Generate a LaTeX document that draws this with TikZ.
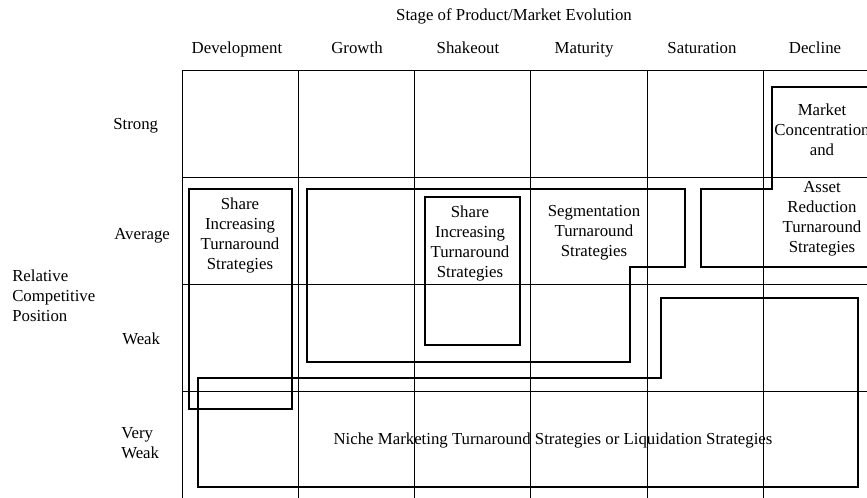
\documentclass[tikz,border=0pt]{standalone}
\usepackage{fontspec}
\setmainfont{Liberation Serif}

\begin{document}
\begin{tikzpicture}[x=0.75pt, y=-0.75pt]
\useasboundingbox (0,0) rectangle (867,497);
\clip (0,0) rectangle (867,497);
  \begin{scope}[every node/.style={inner sep=0pt, align=center, font=\fontsize{12.6}{15}\selectfont}]
\node[anchor=base](stage) at (514,20.7) {Stage of Product/Market Evolution};
\node[anchor=base](dev) at (237,53.3) {Development};
\node[anchor=base](growth) at (357,53.3) {Growth};
\node[anchor=base](shake) at (468,53.3) {Shakeout};
\node[anchor=base](mat) at (584,53.3) {Maturity};
\node[anchor=base](sat) at (702,53.3) {Saturation};
\node[anchor=base](decl) at (815,53.3) {Decline};
\node[anchor=west](strong) at (113,126) {Strong};
\node[anchor=west](avg) at (114,236) {Average};
\node[anchor=west](weak) at (122,339) {Weak};
\node[anchor=west, align=left](vweak) at (121,443) {Very\\Weak};
\node[anchor=west, align=left](rcp) at (12,296) {Relative\\Competitive\\Position};
\node(sharedev) at (240,235) {Share\\Increasing\\Turnaround\\Strategies};
\node(shareshake) at (470,243) {Share\\Increasing\\Turnaround\\Strategies};
\node(segm) at (594,233) {Segmentation\\Turnaround\\Strategies};
\node(conc) at (822,130) {Market\\Concentration\\and};
\node(asset) at (822,219) {Asset\\Reduction\\Turnaround\\Strategies};
\node(niche) at (553,440) {Niche Marketing Turnaround Strategies or Liquidation Strategies};
\end{scope}

\draw[line width=0.75pt] (182,70.7) -- (182,500);
\draw[line width=0.75pt] (298.3,70.7) -- (298.3,500);
\draw[line width=0.75pt] (414.6,70.7) -- (414.6,500);
\draw[line width=0.75pt] (530.9,70.7) -- (530.9,500);
\draw[line width=0.75pt] (647.2,70.7) -- (647.2,500);
\draw[line width=0.75pt] (763.5,70.7) -- (763.5,500);
\draw[line width=0.75pt] (182,70.7) -- (880,70.7);
\draw[line width=0.75pt] (182,177.7) -- (880,177.7);
\draw[line width=0.75pt] (182,284.7) -- (880,284.7);
\draw[line width=0.75pt] (182,391.7) -- (880,391.7);

\draw[line width=1.6pt] (189,189) rectangle (292,409);
\draw[line width=1.6pt] (307,189) -- (685,189) -- (685,267) -- (630,267) -- (630,362) -- (307,362) -- cycle;
\draw[line width=1.6pt] (425,197) rectangle (520,345);
\draw[line width=1.6pt] (890,87) -- (772,87) -- (772,189) -- (701,189) -- (701,267) -- (890,267);
\draw[line width=1.6pt] (198,378) -- (661,378) -- (661,298) -- (858,298) -- (858,487) -- (198,487) -- cycle;
\end{tikzpicture}
\end{document}
